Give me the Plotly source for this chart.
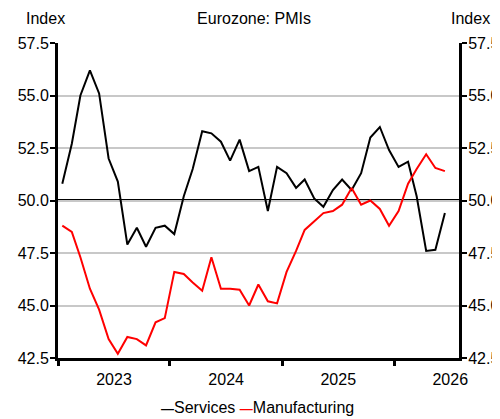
import pandas as pd
import plotly.graph_objects as go

# Monthly PMI readings, Jan 2023 onwards (plotted mid-month)
months = pd.date_range("2023-01-01", periods=42, freq="MS") + pd.Timedelta(days=14)

services = [
    50.8, 52.7, 55.0, 56.2, 55.1, 52.0, 50.9, 47.9, 48.7, 47.8, 48.7, 48.8,
    48.4, 50.2, 51.5, 53.3, 53.2, 52.8, 51.9, 52.9, 51.4, 51.6, 49.5, 51.6,
    51.3, 50.6, 51.0, 50.1, 49.7, 50.5, 51.0, 50.5, 51.3, 53.0, 53.5, 52.4,
    51.6, 51.85, 50.2, 47.6, 47.65, 49.4,
]
manufacturing = [
    48.8, 48.5, 47.3, 45.8, 44.8, 43.4, 42.7, 43.5, 43.4, 43.1, 44.2, 44.4,
    46.6, 46.5, 46.1, 45.7, 47.3, 45.8, 45.8, 45.75, 45.0, 46.0, 45.2, 45.1,
    46.6, 47.6, 48.6, 49.0, 49.4, 49.5, 49.8, 50.6, 49.8, 50.0, 49.6, 48.8,
    49.5, 50.8, 51.5, 52.2, 51.55, 51.4,
]

series_names = ["Services", "Manufacturing"]
series_colors = ["#000000", "#ff0000"]

y_ticks = [42.5, 45.0, 47.5, 50.0, 52.5, 55.0, 57.5]
y_range = [42.5, 57.5]
x_range = ["2023-01-01", "2026-07-31"]

_FONT = "Liberation Sans, Arial, sans-serif"
_TEXT = "#000000"

# page body has an 8px margin, so the figure is sized to fit inside the window
_W, _H = 492, 411
_PLOT_W, _PLOT_H = 401, 315

fig = go.Figure()
for name, color, values in zip(series_names, series_colors, [services, manufacturing]):
    fig.add_trace(go.Scatter(
        x=months, y=values, name=name, mode="lines",
        line=dict(color=color, width=2), showlegend=False,
    ))

# 50 = expansion/contraction threshold (above the grid, below the lines)
fig.add_shape(
    type="line", xref="paper", yref="y", x0=0, x1=1, y0=50, y1=50,
    line=dict(color="#000000", width=3), layer="between",
)

axis_common = dict(
    range=y_range,
    tickvals=y_ticks,
    ticktext=[f"{v:.1f}" for v in y_ticks],
    showline=True, linecolor="#000000", linewidth=3,
    ticks="outside", ticklen=5, tickwidth=2, tickcolor="#000000",
    tickfont=dict(size=16, color=_TEXT),
    ticklabelstandoff=-2,
    automargin=False,
)

# compact legend: short coloured dash before each name
legend_text = " ".join(
    f"<span style='color:{c}; font-size:13px'><b>—</b></span>{n}"
    for n, c in zip(series_names, series_colors)
)

fig.update_layout(
    width=_W, height=_H,
    margin=dict(l=50, r=_W - 50 - _PLOT_W, t=35, b=_H - 35 - _PLOT_H,
                autoexpand=False),
    paper_bgcolor="white", plot_bgcolor="white",
    font=dict(family=_FONT, size=16, color=_TEXT),
    showlegend=False,
    title=dict(text="Eurozone: PMIs", x=0.5, xanchor="center",
               y=1 - 10 / _H, yanchor="middle", font=dict(size=16)),
    xaxis=dict(
        type="date", range=x_range,
        tick0="2023-01-01", dtick="M12", tickformat="%Y",
        ticklabelmode="period", automargin=False,
        showgrid=False, showline=True, linecolor="#000000", linewidth=3,
        ticks="outside", ticklen=5, tickwidth=3, tickcolor="#000000",
        tickfont=dict(size=16, color=_TEXT),
    ),
    yaxis=dict(
        side="left", showgrid=True, gridcolor="#c8c8c8", gridwidth=2,
        zeroline=False, **axis_common,
    ),
    yaxis2=dict(
        side="right", overlaying="y", showgrid=False, zeroline=False,
        **axis_common,
    ),
    annotations=[
        dict(text="Index", xref="paper", yref="paper", x=-13 / _PLOT_W, y=1 + 25 / _PLOT_H,
             xanchor="center", yanchor="middle", showarrow=False, font=dict(size=16)),
        dict(text="Index", xref="paper", yref="paper", x=1 + 11 / _PLOT_W, y=1 + 25 / _PLOT_H,
             xanchor="center", yanchor="middle", showarrow=False, font=dict(size=16)),
        dict(text=legend_text, xref="paper", yref="paper",
             x=(257 - 58) / _PLOT_W, y=-50 / _PLOT_H,
             xanchor="center", yanchor="middle", showarrow=False, font=dict(size=16)),
    ],
)

# invisible trace so the right-hand axis is drawn with its own labels
fig.add_trace(go.Scatter(
    x=[months[0]], y=[50], yaxis="y2", mode="lines",
    line=dict(width=0), showlegend=False, hoverinfo="skip",
))

fig.write_html("out.html")
